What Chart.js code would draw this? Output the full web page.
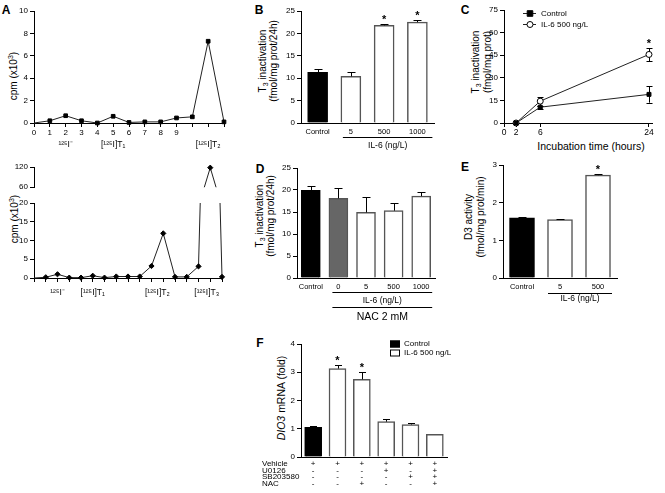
<!DOCTYPE html>
<html>
<head>
<meta charset="utf-8">
<script src="https://cdn.jsdelivr.net/npm/chart.js@4.4.0/dist/chart.umd.min.js"></script>
<style>
  html, body { margin: 0; background: #fff; }
  #fig { position: relative; width: 665px; height: 493px; overflow: hidden;
         font-family: 'Liberation Sans', Arial, sans-serif; color: #000; }
  canvas { position: absolute; }
  .lt { position: absolute; font-weight: bold; font-size: 12px; transform: translate(-50%, -50%); }
  .yt { position: absolute; font-size: 10px; line-height: 11px; white-space: nowrap; text-align: center;
        transform: translate(-50%, -50%) rotate(-90deg); }
  .xt { position: absolute; font-size: 10.5px; white-space: nowrap; transform: translate(-50%, -50%); }
  sub { font-size: 7px; vertical-align: -2px; line-height: 0; }
  sup { font-size: 7px; vertical-align: 4px; line-height: 0; }
</style>
</head>
<body>
<div id="fig">
  <div class="lt" style="left:6px;top:10px">A</div>
  <div class="lt" style="left:259px;top:10px">B</div>
  <div class="lt" style="left:465px;top:10px">C</div>
  <div class="lt" style="left:260px;top:169px">D</div>
  <div class="lt" style="left:465px;top:167px">E</div>
  <div class="lt" style="left:260px;top:343px">F</div>

  <div class="yt" style="left:13px;top:76px">cpm (x10<sup>3</sup>)</div>
  <div class="yt" style="left:14px;top:219px">cpm (x10<sup>3</sup>)</div>
  <div class="yt" style="left:268px;top:61px">T<sub>3</sub> inactivation<br>(fmol/mg prot/24h)</div>
  <div class="yt" style="left:482px;top:62px;line-height:12px">T<sub>3</sub> inactivation<br>(fmol/mg prot)</div>
  <div class="xt" style="left:591px;top:146px">Incubation time (hours)</div>
  <div class="yt" style="left:265px;top:216px">T<sub>3</sub> inactivation<br>(fmol/mg prot/24h)</div>
  <div class="yt" style="left:475px;top:217px;line-height:12px">D3 activity<br>(fmol/mg prot/min)</div>
  <div class="yt" style="left:281px;top:398px;font-size:10.5px"><i>DIO3</i> mRNA (fold)</div>
</div>
<script>
// ---- data ----
// A top: column fractions
const aTopFraction = [0, 1, 2, 3, 4, 5, 6, 7, 8, 9, 10, 11, 12];
const aTopCpm = [0, 0.2, 0.65, 0.2, 0, 0.6, 0.05, 0.1, 0.1, 0.45, 0.55, 7.3, 0.1];
const aTopTickLabels = ['0', '1', '2', '3', '4', '5', '6', '7', '8', '9', '', '', ''];
const aTopPeaks = ['¹²⁵I⁻', '[¹²⁵I]T₁', '[¹²⁵I]T₂'];
const aTopPeakAt = [2, 5, 11];

// A bottom
const aBotFraction = [0, 1, 2, 3, 4, 5, 6, 7, 8, 9, 10, 11, 12, 13, 14, 15, 16];
const aBotCpm = [0, 0.2, 1.0, 0.1, 0.1, 0.6, 0.1, 0.4, 0.4, 0.4, 3.2, 11.9, 0.3, 0.3, 3.1, 118, 0.3];
const aBotPeaks = ['¹²⁵I⁻', '[¹²⁵I]T₁', '[¹²⁵I]T₂', '[¹²⁵I]T₃'];
const aBotPeakAt = [2, 5, 10.5, 14.7];

// B
const bLabels = ['Control', '5', '500', '1000'];
const bValues = [11.3, 10.4, 21.8, 22.5];
const bErrors = [0.7, 1.0, 0.3, 0.4];
const bStars = [false, false, true, true];

// C
const cHours = [2, 6, 24];
const cControl = [0, 10.5, 19];
const cControlErr = [0, 1, 5.5];
const cIL6 = [0, 14.5, 45.5];
const cIL6Err = [0, 3, 4.5];
const cStars = [false, false, true];
const cXTicks = [0, 2, 6, 24];
const cSeries = ['Control', 'IL-6 500 ng/L'];

// D
const dLabels = ['Control', '0', '5', '500', '1000'];
const dValues = [19.9, 18.1, 14.9, 15.3, 18.6];
const dErrors = [1.1, 2.4, 3.6, 1.7, 1.0];

// E
const eLabels = ['Control', '5', '500'];
const eValues = [1.6, 1.55, 2.73];
const eErrors = [0.01, 0.01, 0.04];
const eStars = [false, false, true];

// F
const fValues = [1.05, 3.13, 2.75, 1.25, 1.15, 0.8];
const fErrors = [0.04, 0.12, 0.25, 0.1, 0.06, 0];
const fStars = [false, true, true, false, false, false];
const fVehicle = ['+', '+', '+', '+', '+', '+'];
const fU0126 = ['-', '-', '-', '+', '-', '+'];
const fSB203580 = ['-', '-', '-', '-', '+', '+'];
const fNAC = ['-', '-', '+', '-', '-', '+'];
const fRows = ['Vehicle', 'U0126', 'SB203580', 'NAC'];
const fLegend = ['Control', 'IL-6 500 ng/L'];

// ---- setup ----
Chart.defaults.font.family = "'Liberation Sans', Arial, sans-serif";
Chart.defaults.font.size = 8;
Chart.defaults.color = '#000';
Chart.defaults.animation = false;
Chart.defaults.plugins.legend.display = false;
Chart.defaults.plugins.tooltip.enabled = false;

const DECO = {};
const FONT = "'Liberation Sans', Arial, sans-serif";

function valOf(d) { return (d !== null && typeof d === 'object') ? d.y : d; }

function drawErr(chart, e) {
  const ys = chart.scales.y, ctx = chart.ctx;
  const meta = chart.getDatasetMeta(e.ds), data = chart.data.datasets[e.ds].data;
  ctx.save();
  ctx.strokeStyle = e.color || '#000';
  ctx.lineWidth = 1;
  meta.data.forEach((el, i) => {
    const d = e.err[i];
    if (!d) return;
    const v = valOf(data[i]);
    const x = Math.round(el.x) + 0.5;
    const top = Math.round(ys.getPixelForValue(v + d)) + 0.5;
    const bot = ys.getPixelForValue(e.both ? v - d : v);
    ctx.beginPath();
    ctx.moveTo(x, top); ctx.lineTo(x, bot);
    ctx.moveTo(x - e.cap, top); ctx.lineTo(x + e.cap, top);
    if (e.both) { const b = Math.round(bot) + 0.5; ctx.moveTo(x - e.cap, b); ctx.lineTo(x + e.cap, b); }
    ctx.stroke();
  });
  ctx.restore();
}

// page coordinates -> canvas coordinates
function local(chart, x, y) {
  const c = chart.canvas;
  return { x: x - parseFloat(c.style.left), y: y - parseFloat(c.style.top) };
}

const decoPlugin = {
  id: 'deco',
  beforeDatasetsDraw(chart) {
    const o = DECO[chart.canvas.id];
    if (o && o.errUnder) o.errUnder.forEach(e => drawErr(chart, e));
  },
  afterDatasetsDraw(chart) {
    const o = DECO[chart.canvas.id];
    if (!o) return;
    if (o.err) o.err.forEach(e => drawErr(chart, e));
    if (o.stars) {
      const s = o.stars, ctx = chart.ctx, ys = chart.scales.y;
      const meta = chart.getDatasetMeta(s.ds), data = chart.data.datasets[s.ds].data;
      ctx.save();
      ctx.font = 'bold 11px ' + FONT;
      ctx.textAlign = 'center';
      ctx.textBaseline = 'alphabetic';
      meta.data.forEach((el, i) => {
        if (!s.flags[i]) return;
        const top = ys.getPixelForValue(valOf(data[i]) + (s.err[i] || 0));
        ctx.fillText('*', el.x, top - 1);
      });
      ctx.restore();
    }
  },
  afterDraw(chart) {
    const o = DECO[chart.canvas.id];
    if (!o) return;
    const ctx = chart.ctx, xs = chart.scales.x, area = chart.chartArea;
    ctx.save();
    ctx.fillStyle = '#000';
    ctx.strokeStyle = '#000';
    ctx.lineWidth = 1;
    (o.groups || []).forEach(g => {
      const x0 = xs.getPixelForValue(g.from) - g.padL, x1 = xs.getPixelForValue(g.to) + g.padR;
      const y = Math.round(area.bottom + g.dy) + 0.5;
      ctx.beginPath(); ctx.moveTo(x0, y); ctx.lineTo(x1, y); ctx.stroke();
      ctx.font = (g.size || 8.5) + 'px ' + FONT;
      ctx.textAlign = 'center';
      ctx.textBaseline = 'middle';
      ctx.fillText(g.label, (x0 + x1) / 2, area.bottom + g.ldy);
    });
    if (o.peaks) {
      ctx.font = '8.5px ' + FONT;
      ctx.textAlign = 'center';
      ctx.textBaseline = 'middle';
      o.peaks.labels.forEach((t, i) => {
        ctx.fillText(t, xs.getPixelForValue(o.peaks.at[i]), area.bottom + o.peaks.dy);
      });
    }
    if (o.rows) {
      const p = local(chart, o.rows.x, 0);
      ctx.font = '8px ' + FONT;
      ctx.textAlign = 'left';
      ctx.textBaseline = 'middle';
      o.rows.names.forEach((t, r) => {
        ctx.fillText(t, p.x, area.bottom + o.rows.pad + o.rows.lh * (r + 0.5));
      });
    }
    if (o.lineLegend) {
      const L = o.lineLegend, p = local(chart, L.x, L.y);
      ctx.font = '8px ' + FONT;
      ctx.textAlign = 'left';
      ctx.textBaseline = 'middle';
      chart.data.datasets.forEach((ds, i) => {
        const y = Math.round(p.y + i * L.gap) + 0.5;
        const r = ds.pointRadius;
        ctx.strokeStyle = '#222';
        ctx.lineWidth = 1;
        ctx.beginPath(); ctx.moveTo(p.x, y); ctx.lineTo(p.x + 13, y); ctx.stroke();
        ctx.fillStyle = ds.pointBackgroundColor;
        ctx.strokeStyle = ds.pointBorderColor;
        ctx.beginPath();
        if (ds.pointStyle === 'circle') { ctx.arc(p.x + 7, y, r, 0, Math.PI * 2); }
        else { ctx.rect(p.x + 7 - r, y - r, r * 2, r * 2); }
        ctx.fill(); ctx.stroke();
        ctx.fillStyle = '#000';
        ctx.fillText(ds.label, p.x + 18, y);
      });
    }
    if (o.boxLegend) {
      const L = o.boxLegend, p = local(chart, L.x, L.y);
      ctx.font = '8px ' + FONT;
      ctx.textAlign = 'left';
      ctx.textBaseline = 'middle';
      L.names.forEach((t, i) => {
        const y = p.y + i * L.gap;
        ctx.fillStyle = L.fills[i];
        ctx.strokeStyle = '#000';
        ctx.fillRect(p.x, y - 3.5, 10, 7);
        ctx.strokeRect(p.x + 0.5, y - 3, 9, 6);
        ctx.fillStyle = '#000';
        ctx.fillText(t, p.x + 14, y);
      });
    }
    ctx.restore();
  }
};
Chart.register(decoPlugin);

function yAxis(min, max, step) {
  return {
    min: min, max: max,
    ticks: { stepSize: step, padding: 2 },
    grid: { drawOnChartArea: false, drawTicks: true, tickLength: 4, color: '#000' },
    border: { color: '#000' }
  };
}

function xCat() {
  return {
    offset: true,
    grid: { display: false, drawTicks: false },
    border: { color: '#000' },
    ticks: { padding: 4, font: { size: 7.5 }, maxRotation: 0, autoSkip: false }
  };
}

function makeChart(id, area, m, type, data, scales, deco) {
  const c = document.createElement('canvas');
  c.id = id;
  c.width = area.r - area.l + m.l + m.r;
  c.height = area.b - area.t + m.t + m.b;
  c.style.left = (area.l - m.l) + 'px';
  c.style.top = (area.t - m.t) + 'px';
  document.getElementById('fig').appendChild(c);
  scales.y.afterFit = s => { s.width = m.l; };
  if (scales.x.display !== false) scales.x.afterFit = s => { s.height = m.b; };
  DECO[id] = deco || {};
  return new Chart(c, {
    type: type,
    data: data,
    options: {
      responsive: false,
      maintainAspectRatio: false,
      layout: { padding: { left: 0, top: m.t, right: m.r, bottom: 0 } },
      scales: scales
    }
  });
}

// ---- A top ----
makeChart('aTop', { l: 34, t: 11, r: 224, b: 123 }, { l: 30, t: 8, r: 10, b: 30 }, 'line', {
  datasets: [{
    data: aTopFraction.map((f, i) => ({ x: f, y: aTopCpm[i] })),
    borderColor: '#222', borderWidth: 1, tension: 0,
    pointStyle: 'rect', pointRadius: aTopFraction.map(f => f === 0 ? 0 : 2.6),
    pointBackgroundColor: '#000', pointBorderColor: '#000', clip: false
  }]
}, {
  x: {
    type: 'linear', min: 0, max: 12,
    ticks: { stepSize: 1, padding: 1, autoSkip: false, maxRotation: 0, callback: (v, i) => aTopTickLabels[i] || '' },
    grid: { drawOnChartArea: false, drawTicks: true, tickLength: 4, color: '#000' },
    border: { color: '#000' }
  },
  y: yAxis(0, 10, 2)
}, { peaks: { labels: aTopPeaks, at: aTopPeakAt, dy: 22 } });

// ---- A bottom (broken axis: two stacked panels) ----
const aBotData = () => ({
  datasets: [{
    data: aBotFraction.map((f, i) => ({ x: f, y: aBotCpm[i] })),
    borderColor: '#222', borderWidth: 1, tension: 0,
    pointStyle: 'rectRot', pointRadius: aBotFraction.map(f => f === 0 ? 0 : 2.6),
    pointBackgroundColor: '#000', pointBorderColor: '#000'
  }]
});
const aUp = aBotData();
aUp.datasets[0].clip = { left: 6, right: 6, top: 6, bottom: 0 };
makeChart('aBotUp', { l: 34, t: 167, r: 222, b: 194 }, { l: 30, t: 8, r: 10, b: 0 }, 'line', aUp, {
  x: { type: 'linear', min: 0, max: 16, display: false },
  y: yAxis(60, 120, 30)
});
const aLow = aBotData();
aLow.datasets[0].clip = { left: 6, right: 6, top: 0, bottom: 6 };
makeChart('aBotLow', { l: 34, t: 203, r: 222, b: 278 }, { l: 30, t: 8, r: 10, b: 24 }, 'line', aLow, {
  x: {
    type: 'linear', min: 0, max: 16,
    ticks: { stepSize: 1, padding: 1, autoSkip: false, maxRotation: 0, callback: () => '' },
    grid: { drawOnChartArea: false, drawTicks: true, tickLength: 4, color: '#000' },
    border: { color: '#000' }
  },
  y: yAxis(0, 20, 5)
}, { peaks: { labels: aBotPeaks, at: aBotPeakAt, dy: 15 } });

// ---- B ----
makeChart('pB', { l: 301, t: 11, r: 434, b: 123 }, { l: 30, t: 8, r: 6, b: 30 }, 'bar', {
  labels: bLabels,
  datasets: [{
    data: bValues,
    backgroundColor: bLabels.map((l, i) => i === 0 ? '#000' : '#fff'),
    borderColor: bLabels.map((l, i) => i === 0 ? '#000' : '#555'),
    borderWidth: 1.5, barThickness: 20
  }]
}, { x: xCat(), y: yAxis(0, 25, 5) }, {
  err: [{ ds: 0, err: bErrors, cap: 4 }],
  stars: { ds: 0, flags: bStars, err: bErrors },
  groups: [{ from: 1, to: 3, padL: 8, padR: 15, dy: 14, label: 'IL-6 (ng/L)', ldy: 23 }]
});

// ---- C ----
makeChart('pC', { l: 504, t: 10, r: 652, b: 123 }, { l: 30, t: 8, r: 10, b: 16 }, 'line', {
  datasets: [{
    label: cSeries[0],
    data: cHours.map((h, i) => ({ x: h, y: cControl[i] })),
    borderColor: '#222', borderWidth: 1, tension: 0,
    pointStyle: 'rect', pointRadius: 2.8,
    pointBackgroundColor: '#000', pointBorderColor: '#000', clip: false
  }, {
    label: cSeries[1],
    data: cHours.map((h, i) => ({ x: h, y: cIL6[i] })),
    borderColor: '#222', borderWidth: 1, tension: 0,
    pointStyle: 'circle', pointRadius: 3,
    pointBackgroundColor: '#fff', pointBorderColor: '#000', pointBorderWidth: 1, clip: false
  }]
}, {
  x: {
    type: 'linear', min: 0, max: 24.5,
    afterBuildTicks: s => { s.ticks = cXTicks.map(v => ({ value: v })); },
    ticks: { padding: 1, font: { size: 8.5 }, autoSkip: false, maxRotation: 0 },
    grid: { drawOnChartArea: false, drawTicks: true, tickLength: 4, color: '#000' },
    border: { color: '#000' }
  },
  y: yAxis(0, 75, 15)
}, {
  errUnder: [{ ds: 0, err: cControlErr, both: true, cap: 3 }, { ds: 1, err: cIL6Err, both: true, cap: 3 }],
  stars: { ds: 1, flags: cStars, err: cIL6Err },
  lineLegend: { x: 523, y: 13, gap: 11 }
});

// ---- D ----
makeChart('pD', { l: 297, t: 168, r: 435, b: 278 }, { l: 30, t: 8, r: 6, b: 46 }, 'bar', {
  labels: dLabels,
  datasets: [{
    data: dValues,
    backgroundColor: dLabels.map((l, i) => i === 0 ? '#000' : (i === 1 ? '#666' : '#fff')),
    borderColor: dLabels.map((l, i) => i === 0 ? '#000' : '#555'),
    borderWidth: 1.5, barThickness: 19
  }]
}, { x: xCat(), y: yAxis(0, 25, 5) }, {
  err: [{ ds: 0, err: dErrors, cap: 4 }],
  groups: [
    { from: 1, to: 4, padL: 6, padR: 11, dy: 14, label: 'IL-6 (ng/L)', ldy: 23 },
    { from: 1, to: 4, padL: 6, padR: 11, dy: 29, label: 'NAC 2 mM', ldy: 39, size: 10.5 }
  ]
});

// ---- E ----
makeChart('pE', { l: 503, t: 165, r: 617, b: 278 }, { l: 30, t: 8, r: 6, b: 28 }, 'bar', {
  labels: eLabels,
  datasets: [{
    data: eValues,
    backgroundColor: eLabels.map((l, i) => i === 0 ? '#000' : '#fff'),
    borderColor: eLabels.map((l, i) => i === 0 ? '#000' : '#555'),
    borderWidth: 1.5, barThickness: 25
  }]
}, { x: xCat(), y: yAxis(0, 3, 1) }, {
  err: [{ ds: 0, err: eErrors, cap: 4 }],
  stars: { ds: 0, flags: eStars, err: eErrors },
  groups: [{ from: 1, to: 2, padL: 12, padR: 14, dy: 15, label: 'IL-6 (ng/L)', ldy: 21 }]
});

// ---- F ----
const fLabels = fVehicle.map((v, i) => [fVehicle[i], fU0126[i], fSB203580[i], fNAC[i]]);
const fx = xCat();
fx.ticks = { padding: 3.5, font: { size: 8, lineHeight: 0.82 }, maxRotation: 0, autoSkip: false };
makeChart('pF', { l: 301, t: 344, r: 447, b: 457 }, { l: 42, t: 8, r: 6, b: 34 }, 'bar', {
  labels: fLabels,
  datasets: [{
    data: fValues,
    backgroundColor: fValues.map((v, i) => i === 0 ? '#000' : '#fff'),
    borderColor: fValues.map((v, i) => i === 0 ? '#000' : '#555'),
    borderWidth: 1.5, barThickness: 17
  }]
}, { x: fx, y: yAxis(0, 4, 1) }, {
  err: [{ ds: 0, err: fErrors, cap: 3.5 }],
  stars: { ds: 0, flags: fStars, err: fErrors },
  rows: { names: fRows, x: 262, pad: 3.5, lh: 6.56 },
  boxLegend: { names: fLegend, fills: ['#000', '#fff'], x: 390, y: 344, gap: 9 }
});
</script>
</body>
</html>
